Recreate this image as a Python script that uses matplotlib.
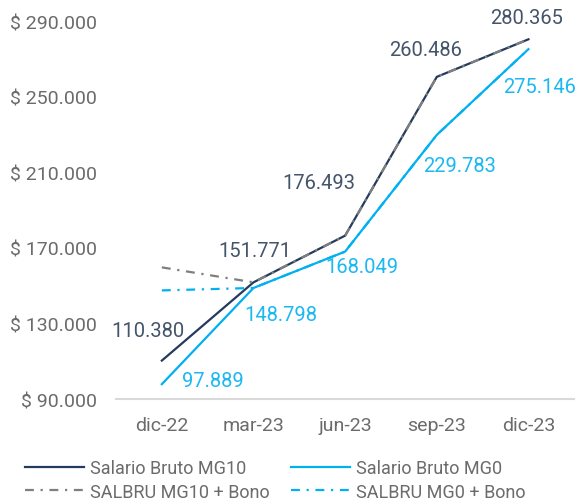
import matplotlib.pyplot as plt
import matplotlib.ticker as mticker

plt.rcParams['font.family'] = ['Roboto', 'DejaVu Sans']

periodos = ["dic-22", "mar-23", "jun-23", "sep-23", "dic-23"]
mg10 = [110380, 151771, 176493, 260486, 280365]
mg0 = [97889, 148798, 168049, 229783, 275146]
mg10_bono = [159700, 151771, 176493, 260486, 280365]
mg0_bono = [147500, 148798, 168049, 229783, 275146]

# offsets (points) for the data labels
off_mg10 = [(-10, 21.5), (1, 23), (-19, 38), (-8, 19.5), (-1.5, 16)]
off_mg0 = [(37, 3), (20, -19), (12, -11), (16.5, -22), (8, -27)]

c_navy = "#243b5e"
c_navy_txt = "#44546a"
c_blue = "#00b0f0"
c_blue_txt = "#1cb8f2"
c_gray = "#7f7f7f"

fig = plt.figure(figsize=(5.83, 5.02), dpi=100)
ax = fig.add_axes([0.199, 0.203, 0.786, 0.753])

x = list(range(len(periodos)))
l1, = ax.plot(x, mg10, color=c_navy, lw=1.6, label="Salario Bruto MG10")
l3, = ax.plot(x, mg0, color=c_blue, lw=1.6, label="Salario Bruto MG0")
l2, = ax.plot(x, mg10_bono, color=c_gray, lw=1.6, dashes=(4, 3, 1, 3), label="SALBRU MG10 + Bono")
l4, = ax.plot(x, mg0_bono, color=c_blue, lw=1.6, dashes=(4, 3, 1, 3), label="SALBRU MG0 + Bono")

fmt = lambda v: f"{v:,.0f}".replace(",", ".")
for i in x:
    ax.annotate(fmt(mg10[i]), (i, mg10[i]), xytext=off_mg10[i], textcoords="offset points",
                ha="center", va="center", fontsize=14.5, color=c_navy_txt)
    ax.annotate(fmt(mg0[i]), (i, mg0[i]), xytext=off_mg0[i], textcoords="offset points",
                ha="center", va="center", fontsize=14.5, color=c_blue_txt)

ax.set_xlim(-0.5, 4.5)
ax.set_ylim(90000, 290000)
ax.set_yticks(range(90000, 290001, 40000))
ax.yaxis.set_major_formatter(mticker.FuncFormatter(lambda v, p: "$ " + fmt(v)))
ax.set_xticks(x)
ax.set_xticklabels(periodos)
ax.tick_params(length=0, labelsize=14, colors="#6b6b6b", pad=14)
ax.tick_params(axis="x", pad=12)
for s in ["top", "right", "left"]:
    ax.spines[s].set_visible(False)
ax.spines["bottom"].set_color("#d9d9d9")
ax.spines["bottom"].set_linewidth(1.5)

fig.legend(handles=[l1, l2, l3, l4], ncol=2, loc="lower left", bbox_to_anchor=(0.015, -0.032),
           frameon=False, fontsize=13, handlelength=3.25, handletextpad=0.35,
           columnspacing=1.2, labelspacing=0.3, labelcolor="#6b6b6b")

fig.savefig("out.png", dpi=100)
